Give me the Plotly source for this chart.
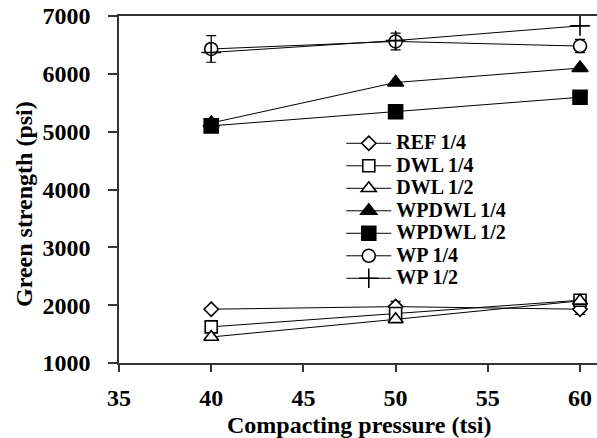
import plotly.graph_objects as go

# Compacting pressure (tsi)
pressure = [40, 50, 60]

# Green strength (psi) per mix
ref_14 = [1930, 1975, 1930]
dwl_14 = [1625, 1855, 2085]
dwl_12 = [1450, 1755, 2075]
wpdwl_14 = [5150, 5850, 6100]
wpdwl_12 = [5100, 5345, 5595]
wp_14 = [6430, 6560, 6480]
wp_12 = [6370, 6575, 6830]

# Standard deviations shown as error bars
ref_14_err = [0, 90, 90]
wp_14_err = [230, 145, 115]

x_ticks = [35, 40, 45, 50, 55, 60]
y_ticks = [1000, 2000, 3000, 4000, 5000, 6000, 7000]

FONT = "Liberation Serif"
INK = "black"


def label(text):
    return f'<span style="font-size:20px">{text}</span>'


def series(name, y, symbol, size, fill, err=None):
    kw = {}
    if err is not None:
        kw["error_y"] = dict(type="data", array=err, visible=True,
                             color=INK, thickness=1.2, width=5)
    return go.Scatter(
        x=pressure, y=y, name=label(name), mode="lines+markers",
        line=dict(color=INK, width=1),
        marker=dict(symbol=symbol, size=size, color=fill,
                    line=dict(color=INK, width=1.6)),
        **kw,
    )


fig = go.Figure()
fig.add_trace(series("REF 1/4", ref_14, "diamond", 11, "white", ref_14_err))
fig.add_trace(series("DWL 1/4", dwl_14, "square", 12, "white"))
fig.add_trace(series("DWL 1/2", dwl_12, "triangle-up", 13, "white"))
fig.add_trace(series("WPDWL 1/4", wpdwl_14, "triangle-up", 14, INK))
fig.add_trace(series("WPDWL 1/2", wpdwl_12, "square", 14, INK))
fig.add_trace(series("WP 1/4", wp_14, "circle", 13, "white", wp_14_err))
fig.add_trace(series("WP 1/2", wp_12, "cross-thin", 14, INK))

axis_font = dict(family=FONT, size=24, color=INK, weight="bold")

fig.update_layout(
    width=597, height=438,
    margin=dict(l=119, r=0, t=16, b=75),
    paper_bgcolor="white", plot_bgcolor="white",
    font=dict(family=FONT, color=INK),
    showlegend=True,
    legend=dict(
        x=0.465, y=0.68, xanchor="left", yanchor="top",
        bgcolor="rgba(0,0,0,0)", borderwidth=0,
        font=dict(family=FONT, size=15, color=INK, weight="bold"),
        itemwidth=45, tracegroupgap=0,
    ),
    xaxis=dict(
        range=[35, 60.92], tickvals=x_ticks, ticktext=[str(v) for v in x_ticks],
        showgrid=False, zeroline=False,
        showline=True, linecolor="#333", linewidth=1.5, mirror=True,
        ticks="outside", ticklen=7, tickcolor="#333", tickwidth=1.5,
        ticklabelstandoff=5,
        tickfont=axis_font,
    ),
    yaxis=dict(
        range=[1000, 7000], tickvals=y_ticks, ticktext=[str(v) for v in y_ticks],
        showgrid=False, zeroline=False,
        showline=True, linecolor="#333", linewidth=1.5,
        ticks="outside", ticklen=9, tickcolor="#333", tickwidth=1.5,
        ticklabelstandoff=13,
        tickfont=axis_font,
    ),
    annotations=[
        dict(text="Compacting pressure (tsi)", xref="paper", yref="paper",
             x=(359 - 119) / 478, y=(363 - 425) / 347,
             xanchor="center", yanchor="middle", showarrow=False,
             font=axis_font),
        dict(text="Green strength (psi)", xref="paper", yref="paper",
             x=(24 - 119) / 478, y=(363 - 204) / 347, textangle=-90,
             xanchor="center", yanchor="middle", showarrow=False,
             font=axis_font),
    ],
)

fig.write_html("out.html")
